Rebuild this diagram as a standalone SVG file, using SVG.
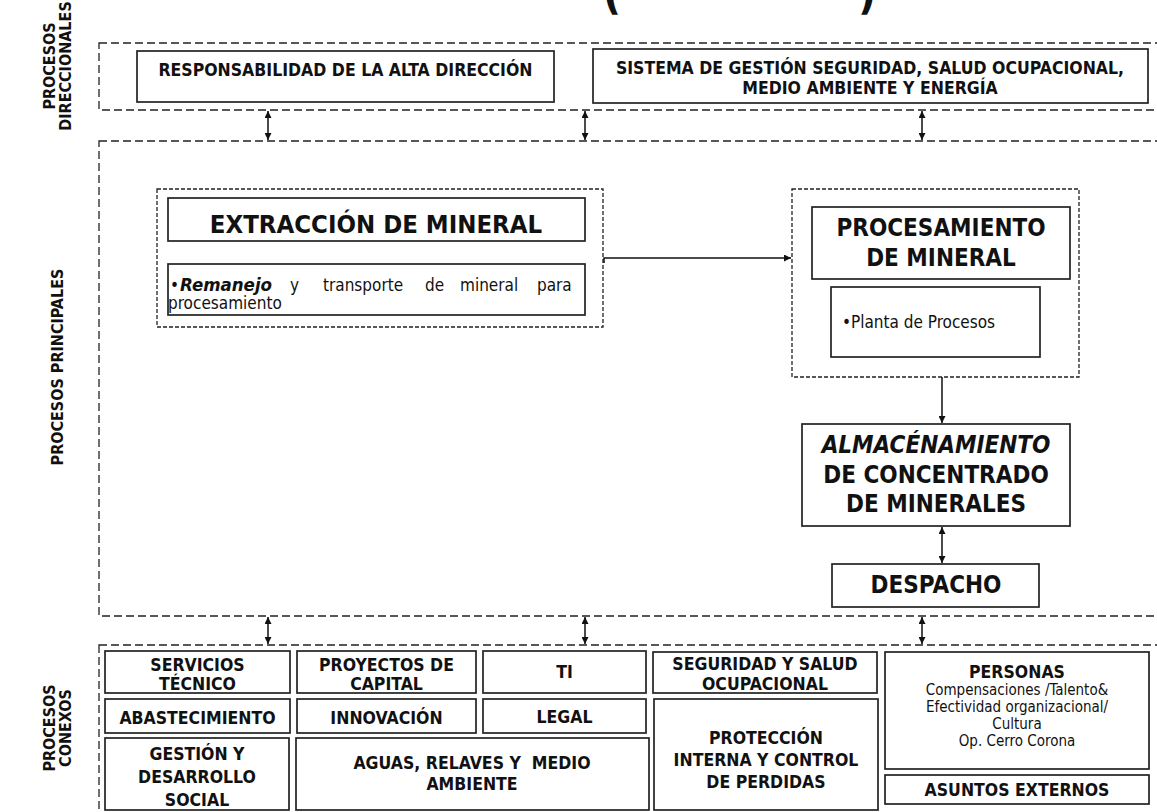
<svg xmlns="http://www.w3.org/2000/svg" width="1157" height="812" viewBox="0 0 1157 812">
<style>
.dash{fill:none;stroke:#222;stroke-width:1.3;stroke-dasharray:8 4}
.dash2{fill:none;stroke:#222;stroke-width:1.3;stroke-dasharray:4 2}
.box{fill:#fff;stroke:#222;stroke-width:1.7}
.t{font-family:'DejaVu Sans Condensed','DejaVu Sans',sans-serif;font-stretch:condensed;font-weight:bold;font-size:17.5px;fill:#111;text-anchor:middle}
.side{font-size:16px}
.big{font-size:24px}
.xl{font-size:25.5px}
.r{font-weight:normal;font-size:17px;text-anchor:start}
.p{font-weight:normal;font-size:15px}
.c{fill:none;stroke:#111;stroke-width:1.5}
</style>
<defs>
<marker id="ah" viewBox="0 0 10 10" refX="10" refY="5" markerWidth="9" markerHeight="7" orient="auto-start-reverse" markerUnits="userSpaceOnUse"><path d="M0,0 L10,5 L0,10 z" fill="#111"/></marker>
</defs>
<rect width="1157" height="812" fill="#fff"/>

<g id="title">
<text class="t" x="603" y="9" style="font-size:44px;text-anchor:start">(</text>
<text class="t" x="858" y="9" style="font-size:44px;text-anchor:start">)</text>
</g>

<g id="labels">
<text class="t side" transform="translate(55,66) rotate(-90)">PROCESOS</text>
<text class="t side" transform="translate(71,66) rotate(-90)">DIRECCIONALES</text>
<text class="t side" transform="translate(63,367) rotate(-90)">PROCESOS PRINCIPALES</text>
<text class="t side" transform="translate(55,728) rotate(-90)">PROCESOS</text>
<text class="t side" transform="translate(71,728) rotate(-90)">CONEXOS</text>
</g>

<g id="zones">
<rect class="dash" x="99" y="43" width="1100" height="67"/>
<rect class="dash" x="99" y="141" width="1100" height="475"/>
<rect class="dash" x="99" y="645" width="1100" height="200"/>
</g>

<g id="responsabilidad">
<rect class="box" x="137" y="51" width="417" height="51"/>
<text class="t" x="345.5" y="76">RESPONSABILIDAD DE LA ALTA DIRECCIÓN</text>
</g>
<g id="sistema">
<rect class="box" x="593" y="49" width="555" height="54"/>
<text class="t" x="870" y="74">SISTEMA DE GESTIÓN SEGURIDAD, SALUD OCUPACIONAL,</text>
<text class="t" x="870" y="94">MEDIO AMBIENTE Y ENERGÍA</text>
</g>

<g id="extraccion">
<rect class="dash2" x="157" y="189" width="446" height="138"/>
<rect class="box" x="168" y="198" width="417" height="43"/>
<text class="t xl" x="376" y="233">EXTRACCIÓN DE MINERAL</text>
<rect class="box" x="168" y="264" width="417" height="51"/>
<text class="t r" y="291"><tspan x="170">•</tspan><tspan x="180" font-weight="bold" font-style="italic" font-size="18.5px">Remanejo</tspan><tspan x="290">y</tspan><tspan x="323">transporte</tspan><tspan x="425">de</tspan><tspan x="460">mineral</tspan><tspan x="537">para</tspan></text>
<text class="t r" x="168" y="309">procesamiento</text>
</g>

<g id="procesamiento">
<rect class="dash2" x="792" y="189" width="287" height="188"/>
<rect class="box" x="812" y="207" width="258" height="72"/>
<text class="t big" x="941" y="236">PROCESAMIENTO</text>
<text class="t big" x="941" y="266">DE MINERAL</text>
<rect class="box" x="831" y="287" width="209" height="70"/>
<text class="t r" x="842" y="328">•Planta de Procesos</text>
</g>

<g id="almacenamiento">
<rect class="box" x="802" y="424" width="268" height="102"/>
<text class="t big" x="936" y="453" font-style="italic">ALMACÉNAMIENTO</text>
<text class="t big" x="936" y="483">DE CONCENTRADO</text>
<text class="t big" x="936" y="512">DE MINERALES</text>
</g>

<g id="despacho">
<rect class="box" x="832" y="564" width="207" height="43"/>
<text class="t big" x="936" y="593">DESPACHO</text>
</g>

<g id="servicios">
<rect class="box" x="105" y="651" width="185" height="42"/>
<text class="t" x="197.5" y="671">SERVICIOS</text>
<text class="t" x="197.5" y="690">TÉCNICO</text>
</g>
<g id="proyectos">
<rect class="box" x="297" y="651" width="179" height="42"/>
<text class="t" x="386.5" y="671">PROYECTOS DE</text>
<text class="t" x="386.5" y="690">CAPITAL</text>
</g>
<g id="ti">
<rect class="box" x="483" y="651" width="163" height="42"/>
<text class="t" x="564.5" y="678">TI</text>
</g>
<g id="seguridad">
<rect class="box" x="653" y="652" width="224" height="41"/>
<text class="t" x="765" y="670">SEGURIDAD Y SALUD</text>
<text class="t" x="765" y="690">OCUPACIONAL</text>
</g>
<g id="personas">
<rect class="box" x="885" y="652" width="264" height="117"/>
<text class="t" x="1017" y="678">PERSONAS</text>
<text class="t p" x="1017" y="695">Compensaciones /Talento&amp;</text>
<text class="t p" x="1017" y="712">Efectividad organizacional/</text>
<text class="t p" x="1017" y="729">Cultura</text>
<text class="t p" x="1017" y="746">Op. Cerro Corona</text>
</g>
<g id="abastecimiento">
<rect class="box" x="105" y="699" width="185" height="34"/>
<text class="t" x="197.5" y="724">ABASTECIMIENTO</text>
</g>
<g id="innovacion">
<rect class="box" x="297" y="699" width="179" height="34"/>
<text class="t" x="386.5" y="724">INNOVACIÓN</text>
</g>
<g id="legal">
<rect class="box" x="483" y="699" width="163" height="34"/>
<text class="t" x="564.5" y="723">LEGAL</text>
</g>
<g id="proteccion">
<rect class="box" x="654" y="699" width="224" height="111"/>
<text class="t" x="766" y="744">PROTECCIÓN</text>
<text class="t" x="766" y="766">INTERNA Y CONTROL</text>
<text class="t" x="766" y="788">DE PERDIDAS</text>
</g>
<g id="gestion">
<rect class="box" x="105" y="738" width="184" height="72"/>
<text class="t" x="197" y="760">GESTIÓN Y</text>
<text class="t" x="197" y="783">DESARROLLO</text>
<text class="t" x="197" y="806">SOCIAL</text>
</g>
<g id="aguas">
<rect class="box" x="296" y="738" width="353" height="72"/>
<text class="t" x="472" y="769" xml:space="preserve">AGUAS, RELAVES Y  MEDIO</text>
<text class="t" x="472" y="790">AMBIENTE</text>
</g>
<g id="asuntos">
<rect class="box" x="885" y="775" width="264" height="29"/>
<text class="t" x="1017" y="796">ASUNTOS EXTERNOS</text>
</g>

<g id="connectors">
<line class="c" x1="268" y1="111" x2="268" y2="140" marker-start="url(#ah)" marker-end="url(#ah)"/>
<line class="c" x1="585" y1="111" x2="585" y2="140" marker-start="url(#ah)" marker-end="url(#ah)"/>
<line class="c" x1="922" y1="111" x2="922" y2="140" marker-start="url(#ah)" marker-end="url(#ah)"/>
<path class="c" d="M604,263 V258 H791" marker-end="url(#ah)"/>
<line class="c" x1="942" y1="377" x2="942" y2="423" marker-end="url(#ah)"/>
<line class="c" x1="942" y1="527" x2="942" y2="563" marker-start="url(#ah)" marker-end="url(#ah)"/>
<line class="c" x1="268" y1="617" x2="268" y2="644" marker-start="url(#ah)" marker-end="url(#ah)"/>
<line class="c" x1="585" y1="617" x2="585" y2="644" marker-start="url(#ah)" marker-end="url(#ah)"/>
<line class="c" x1="922" y1="617" x2="922" y2="644" marker-start="url(#ah)" marker-end="url(#ah)"/>
</g>
</svg>
